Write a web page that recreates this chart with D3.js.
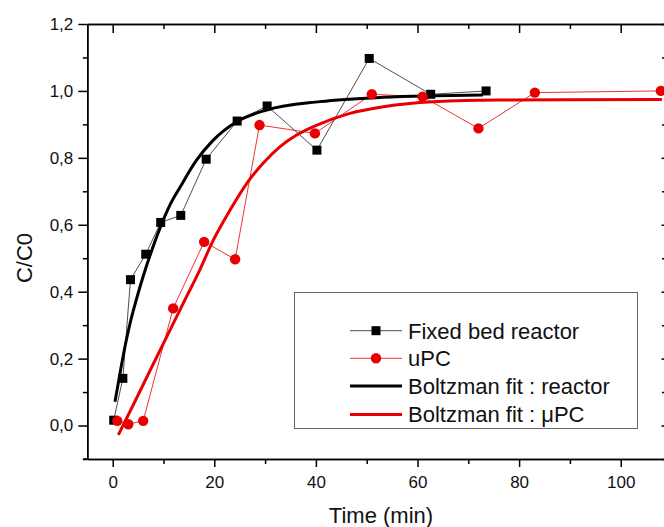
<!DOCTYPE html>
<html><head><meta charset="utf-8">
<script src="https://cdn.jsdelivr.net/npm/d3@7"></script>
<style>body{margin:0;background:#fff}svg{display:block;font-family:Arial,"Liberation Sans",sans-serif}</style>
</head><body><svg id="c" width="664" height="527"></svg>
<script>
// ---- data ----
const reactorTime  = [0.2, 2.0, 3.5, 6.5, 9.45, 13.4, 18.4, 24.5, 30.4, 40.2, 50.5, 62.6, 73.5];
const reactorValue = [0.016, 0.141, 0.436, 0.512, 0.607, 0.628, 0.796, 0.91, 0.955, 0.823, 1.097, 0.99, 1.0];
const upcTime  = [0.9, 3.07, 6.0, 11.9, 18.0, 24.1, 28.9, 39.8, 51.0, 61.0, 72.0, 83.1, 107.9];
const upcValue = [0.014, 0.004, 0.014, 0.35, 0.549, 0.497, 0.898, 0.873, 0.99, 0.983, 0.888, 0.995, 1.0];
const fitReactorTime  = [0.45, 1.44, 2.42, 3.41, 4.72, 6.02, 7.34, 9.31, 11.3, 13.25, 16.5, 19.8, 24.4, 30.3, 40.8, 53.2, 72.9];
const fitReactorValue = [0.071, 0.156, 0.236, 0.305, 0.38, 0.447, 0.508, 0.59, 0.66, 0.712, 0.793, 0.853, 0.908, 0.943, 0.968, 0.981, 0.988];
const fitUpcTime  = [1.1, 4.06, 7.34, 10.6, 13.9, 17.2, 19.8, 23.1, 26.4, 29.6, 32.9, 36.2, 40.2, 46.7, 53.3, 63.1, 76.2, 108.1];
const fitUpcValue = [-0.028, 0.062, 0.164, 0.264, 0.366, 0.467, 0.554, 0.644, 0.724, 0.784, 0.833, 0.868, 0.898, 0.933, 0.953, 0.968, 0.973, 0.974];
const xTicks = [0, 20, 40, 60, 80, 100];
const xMinorTicks = [10, 30, 50, 70, 90, 110];
const yTicks = [0, 0.2, 0.4, 0.6, 0.8, 1.0, 1.2];
const yTickLabels = ["0,0", "0,2", "0,4", "0,6", "0,8", "1,0", "1,2"];
const yMinorTicks = [-0.1, 0.1, 0.3, 0.5, 0.7, 0.9, 1.1];
const legendLabels = ["Fixed bed reactor", "uPC", "Boltzman fit : reactor", "Boltzman fit : \u03bcPC"];
const xTitle = "Time (min)";
const yTitle = "C/C0";

// ---- drawing ----
const svg = d3.select("#c");
const x = d3.scaleLinear().domain([-5, 110]).range([87.3, 671.5]);
const y = d3.scaleLinear().domain([-0.1, 1.2]).range([459, 24]);
const RED = "#e80000";

function styleAxis(g){
  g.selectAll("path.domain").attr("stroke", "#000").attr("stroke-width", 1.5);
  g.selectAll(".tick line").attr("stroke", "#000").attr("stroke-width", 1.5);
  g.selectAll("text").attr("fill", "#111").attr("font-size", 17).attr("font-family", "Arial, 'Liberation Sans', sans-serif");
}

// bottom axis
const gb = svg.append("g").attr("transform", `translate(0,${y(-0.1)})`)
  .call(d3.axisBottom(x).tickValues(xTicks).tickSize(8).tickSizeOuter(0).tickPadding(9).tickFormat(d3.format("d")));
styleAxis(gb);
const gbm = svg.append("g").attr("transform", `translate(0,${y(-0.1)})`)
  .call(d3.axisBottom(x).tickValues(xMinorTicks).tickSize(5).tickSizeOuter(0).tickFormat(""));
styleAxis(gbm);
svg.append("line").attr("x1", x(-5) - 4).attr("x2", x(-5)).attr("y1", y(-0.1)).attr("y2", y(-0.1))
  .attr("stroke", "#000").attr("stroke-width", 1.5);

// top axis (ticks inward)
const gt = svg.append("g").attr("transform", `translate(0,${y(1.2)})`)
  .call(d3.axisBottom(x).tickValues(xTicks).tickSize(9).tickSizeOuter(0).tickFormat(""));
styleAxis(gt);
const gtm = svg.append("g").attr("transform", `translate(0,${y(1.2)})`)
  .call(d3.axisBottom(x).tickValues(xMinorTicks).tickSize(5).tickSizeOuter(0).tickFormat(""));
styleAxis(gtm);

// left axis
const gl = svg.append("g").attr("transform", `translate(${x(-5)},0)`)
  .call(d3.axisLeft(y).tickValues(yTicks).tickSize(9).tickSizeOuter(0).tickPadding(5)
    .tickFormat((d, i) => yTickLabels[i]));
styleAxis(gl);
const glm = svg.append("g").attr("transform", `translate(${x(-5)},0)`)
  .call(d3.axisLeft(y).tickValues(yMinorTicks).tickSize(4.5).tickSizeOuter(0).tickFormat(""));
styleAxis(glm);

// right axis (ticks inward)
const gr = svg.append("g").attr("transform", `translate(${x(110)},0)`)
  .call(d3.axisRight(y).tickValues(yTicks).tickSize(-10).tickSizeOuter(0).tickFormat(""));
styleAxis(gr);
const grm = svg.append("g").attr("transform", `translate(${x(110)},0)`)
  .call(d3.axisRight(y).tickValues(yMinorTicks).tickSize(-9.5).tickSizeOuter(0).tickFormat(""));
styleAxis(grm);

// axis titles
svg.append("text").attr("x", 381).attr("y", 523).attr("text-anchor", "middle")
  .attr("font-size", 22).attr("fill", "#111").text(xTitle);
svg.append("text").attr("transform", "translate(32,258) rotate(-90)").attr("text-anchor", "middle")
  .attr("font-size", 22).attr("fill", "#111").text(yTitle);

// data
const reactor = reactorTime.map((t, i) => [t, reactorValue[i]]);
const upc = upcTime.map((t, i) => [t, upcValue[i]]);
const fitR = fitReactorTime.map((t, i) => [t, fitReactorValue[i]]);
const fitU = fitUpcTime.map((t, i) => [t, fitUpcValue[i]]);

const straight = d3.line().x(d => x(d[0])).y(d => y(d[1]));
const smooth = d3.line().x(d => x(d[0])).y(d => y(d[1])).curve(d3.curveMonotoneX);

svg.append("path").datum(reactor).attr("d", straight).attr("fill", "none").attr("stroke", "#222").attr("stroke-width", 0.8);
svg.append("path").datum(upc).attr("d", straight).attr("fill", "none").attr("stroke", RED).attr("stroke-width", 0.8);
svg.append("path").datum(fitR).attr("d", smooth).attr("fill", "none").attr("stroke", "#000").attr("stroke-width", 3);
svg.append("path").datum(fitU).attr("d", smooth).attr("fill", "none").attr("stroke", RED).attr("stroke-width", 3);

const S = 9;
svg.append("g").selectAll("rect").data(reactor).join("rect")
  .attr("x", d => x(d[0]) - S / 2).attr("y", d => y(d[1]) - S / 2).attr("width", S).attr("height", S).attr("fill", "#000");
svg.append("g").selectAll("circle").data(upc).join("circle")
  .attr("cx", d => x(d[0])).attr("cy", d => y(d[1])).attr("r", 5.2).attr("fill", RED);

// legend
const lg = svg.append("g");
lg.append("rect").attr("x", 294.5).attr("y", 292.5).attr("width", 343).attr("height", 136)
  .attr("fill", "#fff").attr("stroke", "#666").attr("stroke-width", 1);
const rowY = [330.7, 358.3, 386, 414.5];
const lx1 = 350, lx2 = 402, lxm = 376, tx = 408;
// row 0: reactor data
lg.append("line").attr("x1", lx1).attr("x2", lx2).attr("y1", rowY[0]).attr("y2", rowY[0]).attr("stroke", "#222").attr("stroke-width", 0.8);
lg.append("rect").attr("x", lxm - S / 2).attr("y", rowY[0] - S / 2).attr("width", S).attr("height", S).attr("fill", "#000");
// row 1: uPC data
lg.append("line").attr("x1", lx1).attr("x2", lx2).attr("y1", rowY[1]).attr("y2", rowY[1]).attr("stroke", RED).attr("stroke-width", 0.8);
lg.append("circle").attr("cx", lxm).attr("cy", rowY[1]).attr("r", 5.2).attr("fill", RED);
// rows 2,3: fits
lg.append("line").attr("x1", lx1).attr("x2", lx2).attr("y1", rowY[2]).attr("y2", rowY[2]).attr("stroke", "#000").attr("stroke-width", 3);
lg.append("line").attr("x1", lx1).attr("x2", lx2).attr("y1", rowY[3]).attr("y2", rowY[3]).attr("stroke", RED).attr("stroke-width", 3);
lg.selectAll("text.l").data(legendLabels).join("text").attr("class", "l")
  .attr("x", tx).attr("y", (d, i) => rowY[i]).attr("dy", "0.36em")
  .attr("font-size", 22).attr("fill", "#111").text(d => d);
</script></body></html>
